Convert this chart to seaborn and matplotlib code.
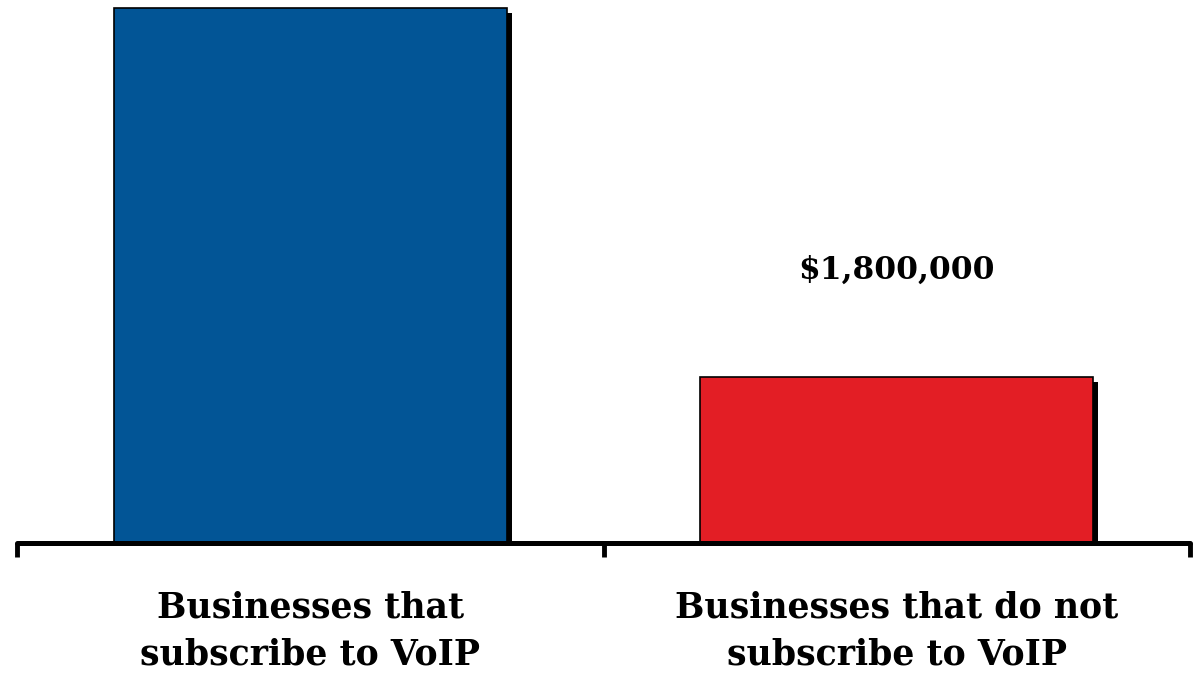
import matplotlib
matplotlib.use("Agg")
import matplotlib.pyplot as plt
import matplotlib.patheffects as pe
import pandas as pd
import seaborn as sns

# data
categories = ["Businesses that\nsubscribe to VoIP", "Businesses that do not\nsubscribe to VoIP"]
values = [5800000, 1800000]
value_labels = [None, "$1,800,000"]
colors = ["#025596", "#E31E25"]

sns.set_theme(style="white")
plt.rcParams['font.family'] = ['DejaVu Serif', 'Liberation Serif']

df = pd.DataFrame({"cat": categories, "val": values})

fig = plt.figure(figsize=(11.93, 6.76), dpi=100)
ax = fig.add_axes([17 / 1193, 133 / 676, 1173 / 1193, 543 / 676])

sns.barplot(data=df, x="cat", y="val", hue="cat", palette=colors, legend=False,
            width=0.67, edgecolor="black", linewidth=1.2, saturation=1, ax=ax)

# drop shadow on the bars
for p in ax.patches:
    p.set_path_effects([pe.SimplePatchShadow(offset=(3.5, -3.5), shadow_rgbFace="black", alpha=1),
                        pe.Normal()])

# value labels above bars
for i, (v, lab) in enumerate(zip(values, value_labels)):
    if lab:
        ax.text(i, v + 1800000 * 0.645, lab, ha="center", va="center",
                fontsize=22.5, fontweight="bold", color="black")

ax.set_xlim(-0.5, 1.5)
ax.set_ylim(0, 1800000 * 543 / 166)
ax.set_xlabel("")
ax.set_ylabel("")
ax.set_yticks([])

for s in ["top", "right", "left"]:
    ax.spines[s].set_visible(False)
ax.spines["bottom"].set_linewidth(3.6)
ax.spines["bottom"].set_color("black")
ax.spines["bottom"].set_capstyle("round")

ax.set_xticks([-0.5, 0.5, 1.5], minor=True)
ax.tick_params(axis="x", which="minor", bottom=True, length=10, width=3.5, color="black", direction="out")
ax.tick_params(axis="x", which="major", length=0, pad=34, labelsize=25, labelcolor="black")
for t in ax.get_xticklabels():
    t.set_fontweight("bold")
    t.set_linespacing(1.5)

fig.savefig("out.png", dpi=100)
